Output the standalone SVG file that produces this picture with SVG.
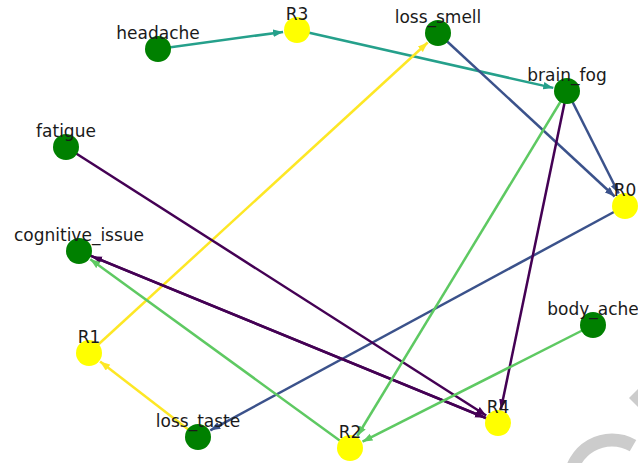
<svg xmlns="http://www.w3.org/2000/svg" width="638" height="463" viewBox="0 0 638 463">
<style>
.e{fill:none;stroke-width:2.5}
.p{stroke:#440154}.b{stroke:#3b528b}.t{stroke:#25a08b}.g{stroke:#5ec962}.y{stroke:#fde725}
.s{fill:#008000}.r{fill:#ffff00}
text{font-family:"DejaVu Sans","Liberation Sans",sans-serif;font-size:17px;fill:#1a1a1a;text-anchor:middle}
</style>
<defs>
<marker id="ap" markerUnits="userSpaceOnUse" markerWidth="11" markerHeight="8" refX="10" refY="3.75" orient="auto"><path d="M0,0 L10,3.75 L0,7.5 z" fill="#440154"/></marker>
<marker id="ab" markerUnits="userSpaceOnUse" markerWidth="11" markerHeight="8" refX="10" refY="3.75" orient="auto"><path d="M0,0 L10,3.75 L0,7.5 z" fill="#3b528b"/></marker>
<marker id="at" markerUnits="userSpaceOnUse" markerWidth="11" markerHeight="8" refX="10" refY="3.75" orient="auto"><path d="M0,0 L10,3.75 L0,7.5 z" fill="#25a08b"/></marker>
<marker id="ag" markerUnits="userSpaceOnUse" markerWidth="11" markerHeight="8" refX="10" refY="3.75" orient="auto"><path d="M0,0 L10,3.75 L0,7.5 z" fill="#5ec962"/></marker>
<marker id="ay" markerUnits="userSpaceOnUse" markerWidth="11" markerHeight="8" refX="10" refY="3.75" orient="auto"><path d="M0,0 L10,3.75 L0,7.5 z" fill="#fde725"/></marker>
</defs>
<g id="watermark" fill="#cccccc">
<path d="M570,482 A42,42 0 0 1 633,445.6" fill="none" stroke="#cccccc" stroke-width="13"/>
<polygon points="629,398 639,388 639,408"/>
</g>
<g id="connectors">
<line class="e t" x1="158" y1="49" x2="283.1" y2="31.9" marker-end="url(#at)"/>
<line class="e t" x1="297" y1="30" x2="553.3" y2="87.9" marker-end="url(#at)"/>
<line class="e b" x1="438" y1="33" x2="614.7" y2="196.5" marker-end="url(#ab)"/>
<line class="e b" x1="567" y1="91" x2="618.7" y2="193.5" marker-end="url(#ab)"/>
<line class="e b" x1="625" y1="206" x2="210.3" y2="430.3" marker-end="url(#ab)"/>
<line class="e y" x1="89" y1="353" x2="427.7" y2="42.5" marker-end="url(#ay)"/>
<line class="e y" x1="198" y1="437" x2="100.1" y2="361.5" marker-end="url(#ay)"/>
<line class="e p" x1="66" y1="147" x2="486.2" y2="415.5" marker-end="url(#ap)"/>
<line class="e p" x1="79" y1="251" x2="485.0" y2="417.7" marker-end="url(#ap)"/>
<line class="e p" x1="498" y1="423" x2="92.0" y2="256.3" marker-end="url(#ap)"/>
<line class="e p" x1="567" y1="91" x2="500.9" y2="409.3" marker-end="url(#ap)"/>
<line class="e g" x1="567" y1="91" x2="357.3" y2="436.0" marker-end="url(#ag)"/>
<line class="e g" x1="350" y1="448" x2="90.3" y2="259.2" marker-end="url(#ag)"/>
<line class="e g" x1="593" y1="325" x2="362.5" y2="441.7" marker-end="url(#ag)"/>
</g>
<g id="headache"><circle class="s" cx="158" cy="49" r="13"/><text x="158" y="39">headache</text></g>
<g id="R3"><circle class="r" cx="297" cy="30" r="13"/><text x="297" y="19.5">R3</text></g>
<g id="loss_smell"><circle class="s" cx="438" cy="33" r="13"/><text x="438" y="22.5">loss_smell</text></g>
<g id="brain_fog"><circle class="s" cx="567" cy="91" r="13"/><text x="567" y="80.5">brain_fog</text></g>
<g id="fatigue"><circle class="s" cx="66" cy="147" r="13"/><text x="66" y="136.5">fatigue</text></g>
<g id="R0"><circle class="r" cx="625" cy="206" r="13"/><text x="625" y="195.5">R0</text></g>
<g id="cognitive_issue"><circle class="s" cx="79" cy="251" r="13"/><text x="79" y="240.5">cognitive_issue</text></g>
<g id="body_ache"><circle class="s" cx="593" cy="325" r="13"/><text x="593" y="314.5">body_ache</text></g>
<g id="R1"><circle class="r" cx="89" cy="353" r="13"/><text x="89" y="342.5">R1</text></g>
<g id="R4"><circle class="r" cx="498" cy="423" r="13"/><text x="498" y="412.5">R4</text></g>
<g id="loss_taste"><circle class="s" cx="198" cy="437" r="13"/><text x="198" y="426.5">loss_taste</text></g>
<g id="R2"><circle class="r" cx="350" cy="448" r="13"/><text x="350" y="437.5">R2</text></g>
</svg>
